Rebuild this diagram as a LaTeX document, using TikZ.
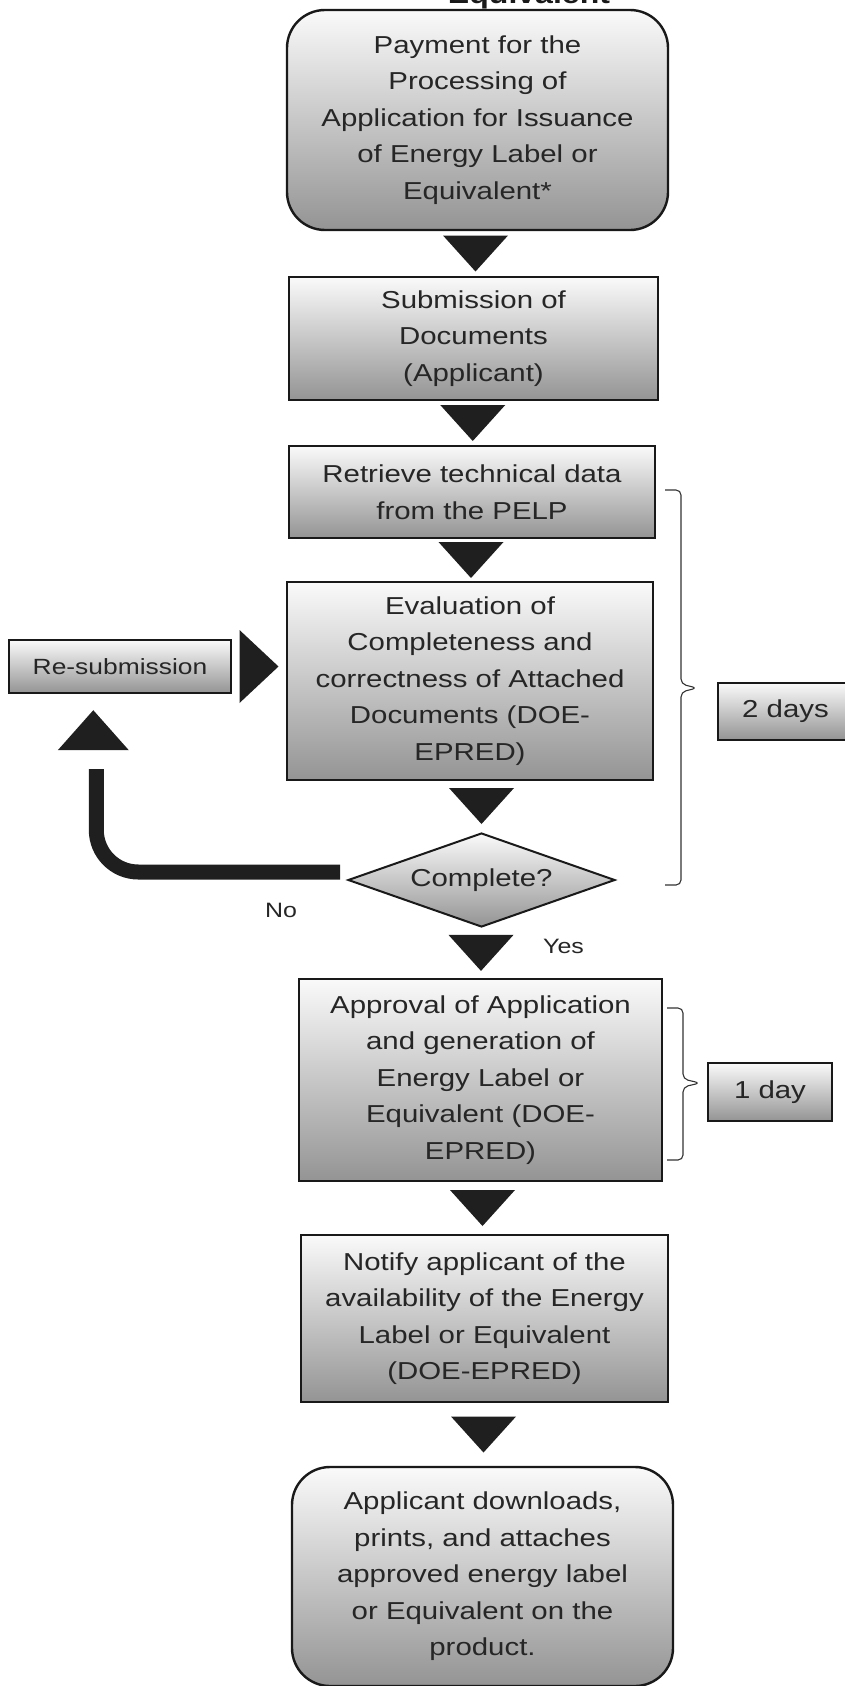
\documentclass[tikz,border=0pt]{standalone}
\usepackage{fontspec}
\setmainfont{Liberation Sans}[FakeStretch=1.2]
\usetikzlibrary{shapes.geometric,calc}

\newcommand{\boxfont}{\fontsize{24.5}{36.5}\selectfont}
\newcommand{\smallfont}{\fontsize{20.8}{24}\selectfont}
\newcommand{\downtri}[1]{\fill[tri] (#1) ++(-32.5,-18) -- ++(65,0) -- ++(-32.5,36) -- cycle;}

\tikzset{
  stepbox/.style={draw=black!90, line width=2.4pt, top color=black!2, bottom color=black!42,
    text=black!85, align=center, inner sep=0pt, font=\boxfont},
  roundbox/.style={stepbox, rounded corners=38pt},
  decbox/.style={stepbox, diamond, aspect=2.84, line width=2pt},
  tri/.style={fill=black!88},
  bracket/.style={draw=black!80, line width=1.1pt, rounded corners=5pt},
  noline/.style={draw=black!88, line width=15pt, rounded corners=42pt},
}

\begin{document}
\begin{tikzpicture}[x=1pt,y=1pt,yscale=-1,xscale=1]
\useasboundingbox (0,0) rectangle (845,1686);
% cut-off heading
\node[anchor=base, text=black!90, font=\fontsize{26.7}{30}\selectfont\bfseries] (ttl) at (529,4) {Equivalent};
% main column
\node[roundbox, minimum width=381, minimum height=220] (pay) at (477.5,120) {Payment for the\\ Processing of\\ Application for Issuance\\ of Energy Label or\\ Equivalent*};
\node[stepbox, minimum width=369, minimum height=123] (sub) at (473.5,338.5) {Submission of\\ Documents\\ (Applicant)};
\node[stepbox, minimum width=366, minimum height=92] (ret) at (472,492) {Retrieve technical data\\ from the PELP};
\node[stepbox, minimum width=366, minimum height=198] (eval) at (470,681) {Evaluation of\\ Completeness and\\ correctness of Attached\\ Documents (DOE-\\ EPRED)};
\node[decbox, minimum width=267, minimum height=94] (dec) at (481.5,880) {Complete?};
\node[stepbox, minimum width=363, minimum height=202] (app) at (480.5,1080) {Approval of Application\\ and generation of\\ Energy Label or\\ Equivalent (DOE-\\ EPRED)};
\node[stepbox, minimum width=367, minimum height=167] (note) at (484.5,1318.5) {Notify applicant of the\\ availability of the Energy\\ Label or Equivalent\\ (DOE-EPRED)};
\node[roundbox, minimum width=381, minimum height=219] (fin) at (482.5,1576.5) {Applicant downloads,\\ prints, and attaches\\ approved energy label\\ or Equivalent on the\\ product.};
% side boxes
\node[stepbox, font=\fontsize{22}{26}\selectfont, minimum width=222, minimum height=53] (resub) at (120,666.5) {Re-submission};
\node[stepbox, minimum width=135, minimum height=57] (two) at (785.5,711.5) {2 days};
\node[stepbox, minimum width=124, minimum height=58] (one) at (770,1092) {1 day};
% arrow heads
\downtri{$(pay.south)!.5!(sub.north)$}
\downtri{$(sub.south)!.5!(ret.north)$}
\downtri{$(ret.south)!.5!(eval.north)$}
\downtri{$(dec.north)+(0,-26)$}
\downtri{$(dec.south)!.5!(app.north)$}
\downtri{$(app.south)!.5!(note.north)$}
\downtri{$(note.south)!.5!(fin.north)$}
\fill[tri] ($(resub.east)!.5!(eval.west |- resub.east)$) ++(-19.5,-36.5) -- ++(39,36.5) -- ++(-39,36.5) -- cycle;
\coordinate (upc) at ($(resub.south west)+(85.5,36)$);
\fill[tri] (upc) ++(-35.5,20) -- ++(71,0) -- ++(-35.5,-40) -- cycle;
% No loop
\coordinate (nostart) at ($(dec.west)+(-7,-8)$);
\coordinate (noend) at ($(upc)+(3,39)$);
\draw[noline] (nostart) -| (noend);
\node[font=\smallfont, text=black!85] (no) at (281,910) {No};
\node[font=\smallfont, text=black!85] (yes) at (563.5,946) {Yes};
% braces
\draw[bracket] (665,490) -- (681,490) -- (681,684) -- (697,688) -- (681,692) -- (681,885) -- (665,885);
\draw[bracket] (667,1008) -- (683,1008) -- (683,1079) -- (700,1083) -- (683,1087) -- (683,1160) -- (667,1160);
\end{tikzpicture}
\end{document}
